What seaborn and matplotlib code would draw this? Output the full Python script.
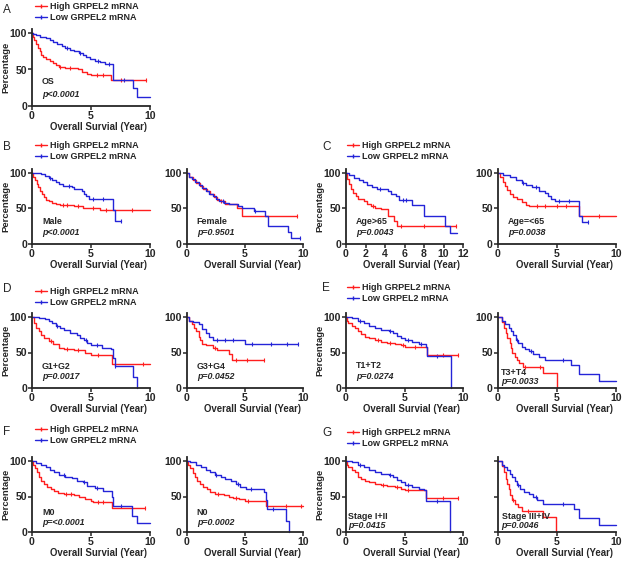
import numpy as np
import pandas as pd
import matplotlib
matplotlib.use('Agg')
import matplotlib.pyplot as plt
from matplotlib.lines import Line2D
import seaborn as sns

# Kaplan-Meier step knots (year, survival %)
A_HIGH = [(0,100),(0.1,95),(0.2,90),(0.35,85),(0.5,80),(0.65,75),(0.8,70),(0.95,67),(1.2,64),(1.5,62),(1.8,59),(2.0,56),(2.3,54),(2.8,52),(3.9,50),(4.2,47),(4.7,44),(5.0,42),(6.7,35),(9.7,35)]
A_LOW = [(0,100),(0.1,98),(0.3,97),(0.7,95),(1.2,93),(1.5,90),(1.8,87),(2.1,85),(2.5,82),(2.8,80),(3.2,77),(3.6,75),(4.0,72),(4.3,70),(4.6,67),(4.9,64),(5.3,62),(5.8,60),(6.2,58),(6.9,36),(8.6,24),(8.9,12),(10.0,12)]
B1_HIGH = [(0,100),(0.1,95),(0.25,90),(0.4,85),(0.55,80),(0.7,75),(0.85,70),(1.0,66),(1.15,62),(1.4,60),(1.7,58),(2.0,56),(2.4,55),(3.6,53),(4.3,51),(4.9,50),(5.8,48),(10.0,48)]
B1_LOW = [(0,100),(0.8,98),(1.1,96),(1.4,93),(1.7,90),(2.0,87),(2.3,84),(2.6,82),(3.4,80),(3.6,77),(4.2,74),(4.4,70),(4.6,67),(4.8,63),(6.9,48),(7.0,32),(7.5,32)]
B2_HIGH = [(0,100),(0.2,95),(0.5,90),(0.8,86),(1.1,82),(1.4,78),(1.7,74),(2.0,70),(2.3,66),(2.6,62),(2.9,60),(3.3,57),(3.8,56),(4.3,50),(4.7,40),(9.5,40)]
B2_LOW = [(0,100),(0.15,95),(0.4,91),(0.7,87),(1.0,83),(1.3,79),(1.6,75),(1.9,71),(2.2,67),(2.5,63),(2.8,61),(3.2,58),(3.6,56),(4.4,54),(4.7,50),(5.6,50),(5.8,47),(6.7,40),(7.0,26),(8.7,17),(9.0,9),(9.7,9)]
C1_HIGH = [(0,100),(0.1,92),(0.3,85),(0.5,78),(0.7,72),(1.0,68),(1.2,63),(1.8,60),(2.2,56),(2.6,53),(3.0,51),(3.6,49),(4.3,40),(4.9,33),(5.2,26),(11.3,26)]
C1_LOW = [(0,100),(0.3,97),(0.8,93),(1.3,90),(1.7,87),(2.2,83),(2.7,80),(3.2,77),(4.3,74),(4.6,70),(5.1,67),(5.4,62),(6.8,55),(8.0,40),(10.2,25),(10.7,15),(11.4,15)]
C2_HIGH = [(0,100),(0.2,95),(0.4,88),(0.6,82),(0.8,76),(1.0,70),(1.3,66),(1.6,63),(2.0,59),(2.4,55),(2.6,53),(6.9,40),(10.0,40)]
C2_LOW = [(0,100),(0.4,97),(1.0,95),(1.5,90),(2.0,86),(2.4,83),(2.9,80),(3.5,75),(4.0,72),(4.2,68),(4.5,64),(4.8,60),(6.9,40),(7.1,31),(7.6,31)]
D1_HIGH = [(0,100),(0.15,92),(0.35,85),(0.6,80),(0.8,74),(1.0,70),(1.4,66),(1.8,62),(2.3,57),(2.7,55),(3.6,53),(4.5,49),(5.0,46),(6.8,34),(10.0,34)]
D1_LOW = [(0,100),(0.6,99),(1.1,97),(1.4,94),(1.7,91),(2.0,88),(2.4,85),(2.7,81),(3.2,78),(3.8,74),(4.1,70),(4.4,67),(4.7,63),(5.0,60),(5.9,57),(6.7,55),(6.9,42),(7.0,31),(8.5,31),(8.6,15),(8.9,0)]
D2_HIGH = [(0,100),(0.2,95),(0.4,90),(0.6,85),(0.8,80),(1.0,72),(1.1,67),(1.3,62),(1.6,60),(2.2,57),(2.6,53),(3.6,48),(3.9,40),(6.6,40)]
D2_LOW = [(0,100),(0.2,95),(0.5,93),(1.0,90),(1.3,83),(1.6,77),(1.9,72),(2.2,68),(5.0,62),(9.6,62)]
E1_HIGH = [(0,100),(0.05,95),(0.2,92),(0.5,88),(0.8,84),(1.0,80),(1.3,76),(1.6,72),(2.0,70),(2.5,68),(3.0,65),(3.5,63),(4.2,62),(4.7,60),(5.0,58),(6.9,46),(9.6,46)]
E1_LOW = [(0,100),(0.5,98),(1.0,95),(1.5,91),(2.0,88),(2.5,85),(3.0,82),(3.7,80),(4.0,77),(4.4,73),(4.7,70),(5.0,67),(5.6,65),(6.2,62),(6.8,58),(6.9,45),(9.0,0)]
E2_HIGH = [(0,100),(0.3,93),(0.5,85),(0.7,77),(0.8,70),(1.0,63),(1.1,57),(1.2,50),(1.4,44),(1.6,40),(1.8,35),(2.1,30),(3.8,21),(5.0,0)]
E2_LOW = [(0,100),(0.3,95),(0.6,90),(0.9,85),(1.1,80),(1.3,75),(1.5,68),(1.7,63),(2.0,58),(2.3,55),(2.6,52),(3.0,48),(3.5,44),(4.0,40),(6.2,33),(6.9,20),(8.6,10),(10.0,10)]
F1_HIGH = [(0,100),(0.1,95),(0.25,90),(0.4,84),(0.6,78),(0.8,72),(1.0,67),(1.3,64),(1.6,61),(1.9,58),(2.2,55),(2.7,53),(3.6,52),(4.0,49),(4.5,46),(5.0,44),(5.2,42),(6.75,34),(9.6,34)]
F1_LOW = [(0,100),(0.3,97),(0.8,95),(1.2,92),(1.5,88),(1.9,84),(2.3,80),(2.8,78),(3.4,76),(3.8,72),(4.3,70),(4.7,65),(5.3,62),(6.0,58),(6.8,50),(6.9,37),(8.5,23),(8.9,12),(10.0,12)]
F2_HIGH = [(0,100),(0.1,95),(0.3,90),(0.5,83),(0.7,77),(0.9,72),(1.1,67),(1.4,63),(1.7,60),(2.0,56),(2.4,53),(3.2,52),(3.6,50),(4.0,48),(4.5,46),(5.0,43),(6.8,37),(10.0,37)]
F2_LOW = [(0,100),(0.3,98),(0.8,95),(1.2,92),(1.6,88),(2.0,84),(2.4,80),(2.9,77),(3.3,75),(3.8,72),(4.2,68),(4.6,64),(5.1,61),(5.8,60),(6.6,57),(6.8,45),(6.9,32),(8.55,16),(8.8,0)]
G1_HIGH = [(0,100),(0.05,95),(0.2,92),(0.5,88),(0.8,84),(1.0,78),(1.3,74),(1.6,72),(2.0,70),(2.5,68),(3.0,66),(3.5,65),(4.2,63),(4.7,61),(5.0,59),(6.8,48),(9.6,48)]
G1_LOW = [(0,100),(0.5,98),(1.0,95),(1.5,91),(2.0,88),(2.5,85),(3.0,82),(3.7,80),(4.0,77),(4.4,73),(4.7,70),(5.0,66),(5.6,64),(6.2,61),(6.7,59),(6.8,44),(8.9,0)]
G2_HIGH = [(0,100),(0.3,93),(0.5,85),(0.7,75),(0.8,68),(0.9,60),(1.0,52),(1.2,45),(1.4,40),(1.7,35),(2.0,30),(3.8,21),(4.95,0)]
G2_LOW = [(0,100),(0.3,95),(0.5,92),(0.8,87),(1.0,82),(1.2,77),(1.4,72),(1.6,66),(1.9,61),(2.2,57),(2.6,53),(3.0,50),(3.3,45),(3.8,40),(6.4,33),(6.9,20),(8.6,10),(10.0,10)]

# censor tick times (year)
A_HIGH_C = [2.4, 3.2, 5.5, 6.0, 7.5, 9.7]
A_LOW_C = [3.0, 4.1, 5.6, 6.5, 7.8]
B1_HIGH_C = [2.6, 3.0, 3.9, 5.2, 6.3, 8.5]
B1_LOW_C = [1.5, 3.1, 5.2, 6.0, 7.5]
B2_HIGH_C = [2.9, 9.5]
B2_LOW_C = [3.1, 5.9, 9.7]
C1_HIGH_C = [2.8, 5.6, 8.0, 11.3]
C1_LOW_C = [3.5, 5.8, 6.2]
C2_HIGH_C = [3.3, 4.0, 5.0, 5.8, 8.6]
C2_LOW_C = [2.1, 3.2, 5.2, 6.0, 7.6]
D1_HIGH_C = [1.6, 3.0, 3.9, 5.6, 9.4]
D1_LOW_C = [2.1, 4.6, 5.5, 7.0]
D2_HIGH_C = [2.4, 4.2, 5.2, 6.6]
D2_LOW_C = [2.6, 3.3, 4.0, 5.6, 7.2, 8.6, 9.6]
E1_HIGH_C = [2.7, 3.8, 4.9, 5.9, 8.3, 9.6]
E1_LOW_C = [1.2, 3.8, 5.3, 6.4, 7.8]
E2_HIGH_C = [2.3, 3.6]
E2_LOW_C = [1.6, 2.8, 5.5]
F1_HIGH_C = [2.9, 3.3, 5.6, 6.0, 9.6]
F1_LOW_C = [2.7, 4.4, 5.5, 7.5]
F2_HIGH_C = [2.7, 4.2, 5.3, 8.5, 9.8]
F2_LOW_C = [2.5, 4.4, 5.5, 7.4]
G1_HIGH_C = [3.2, 4.4, 5.3, 8.3, 9.6]
G1_LOW_C = [1.2, 3.8, 5.3, 7.8]
G2_HIGH_C = [1.3, 2.5]
G2_LOW_C = [1.7, 3.2, 5.5]

LABELS = ['High GRPEL2 mRNA', 'Low GRPEL2 mRNA']
RED = '#FF1E1E'
BLUE = '#2424D8'

sns.set_style('ticks')
plt.rcParams['font.family'] = ['Liberation Sans', 'DejaVu Sans']
plt.rcParams['font.weight'] = 'bold'

W, H = 625, 562
fig = plt.figure(figsize=(W / 100, H / 100), dpi=100)

YTOP = 105


def km_frame(knots):
    return pd.DataFrame(knots, columns=['t', 's'])


def step_value(knots, t):
    val = knots[0][1]
    for kt, ks in knots:
        if kt <= t:
            val = ks
    return val


def draw_panel(x0, x1, y100, y0, high, low, high_c, low_c, name, pval,
               xmax=10, xticks=(0, 5, 10), txt_x=0.085, txt_y=(31, 16),
               ylabels=True, ylab=True):
    # position in pixels -> figure fraction
    hpx = (y0 - y100) * YTOP / 100
    wpx = x1 - x0
    ax = fig.add_axes([x0 / W, 1 - y0 / H, wpx / W, hpx / H])
    for knots, cens, col in [(high, high_c, RED), (low, low_c, BLUE)]:
        df = km_frame(knots)
        sns.lineplot(data=df, x='t', y='s', drawstyle='steps-post', estimator=None,
                     sort=False, color=col, linewidth=1.0, ax=ax)
        cdf = pd.DataFrame({'t': cens, 's': [step_value(knots, c) for c in cens]})
        sns.scatterplot(data=cdf, x='t', y='s', marker='|', s=12, color=col,
                        linewidth=0.8, ax=ax)
    ax.set_xlim(0, xmax)
    ax.set_ylim(0, YTOP)
    ax.set_xticks(list(xticks))
    ax.set_yticks([0, 50, 100])
    for s in ['top', 'right']:
        ax.spines[s].set_visible(False)
    for s in ['left', 'bottom']:
        ax.spines[s].set_linewidth(1.3)
    ax.tick_params(length=3, width=1.1, labelsize=7.6, pad=0.6)
    for lab in ax.get_xticklabels() + ax.get_yticklabels():
        lab.set_fontweight('bold')
    if not ylabels:
        ax.set_yticklabels([])
    ax.set_xlabel('Overall Survial (Year)', fontsize=6.9, fontweight='bold')
    ax.xaxis.set_label_coords(0.5 + 7 / wpx, -16 / hpx)
    if ylab:
        ax.set_ylabel('Percentage', fontsize=6.8, fontweight='bold')
        ax.yaxis.set_label_coords(-22 / wpx, 0.5)
    else:
        ax.set_ylabel('')
    ax.text(txt_x, txt_y[0] / YTOP, name, transform=ax.transAxes, fontsize=6.4,
            fontweight='bold', va='center', ha='left')
    ax.text(txt_x, txt_y[1] / YTOP, pval, transform=ax.transAxes, fontsize=6.4,
            fontweight='bold', style='italic', va='center', ha='left')
    for ln in ax.lines:
        ln.set_clip_on(False)
    return ax


def add_legend(ax, x, y):
    handles = [Line2D([0], [0], color=RED, lw=1.0, marker='|', markersize=3),
               Line2D([0], [0], color=BLUE, lw=1.0, marker='|', markersize=3)]
    ax.legend(handles, LABELS, loc='upper left', bbox_to_anchor=(x / W, 1 - y / H),
              bbox_transform=fig.transFigure, frameon=False, handlelength=1.35,
              handletextpad=0.3, labelspacing=0.25, borderpad=0, borderaxespad=0,
              prop={'weight': 'bold', 'size': 6.5})


def letter(x, y, s):
    fig.text(x / W, 1 - y / H, s, fontsize=8.5, fontweight='normal', va='center', ha='left')


C1, C2, C3, C4 = (32, 150), (187, 303), (346, 463), (498, 616)
R1, R2, R3, R4 = (33, 106), (173, 244), (317, 388), (461, 532)

axA = draw_panel(*C1, *R1, A_HIGH, A_LOW, A_HIGH_C, A_LOW_C, 'OS', 'p<0.0001', txt_y=(33, 16))
add_legend(axA, 35, 2)
letter(3, 10, 'A')

axB1 = draw_panel(*C1, *R2, B1_HIGH, B1_LOW, B1_HIGH_C, B1_LOW_C, 'Male', 'p<0.0001')
add_legend(axB1, 35, 141)
draw_panel(*C2, *R2, B2_HIGH, B2_LOW, B2_HIGH_C, B2_LOW_C, 'Female', 'p=0.9501', ylab=False)
letter(3, 147, 'B')

axC1 = draw_panel(*C3, *R2, C1_HIGH, C1_LOW, C1_HIGH_C, C1_LOW_C, 'Age>65', 'p=0.0043',
                  xmax=12, xticks=(0, 2, 4, 6, 8, 10, 12))
add_legend(axC1, 347, 141)
draw_panel(*C4, *R2, C2_HIGH, C2_LOW, C2_HIGH_C, C2_LOW_C, 'Age=<65', 'p=0.0038', ylab=False)
letter(322, 147, 'C')

axD1 = draw_panel(*C1, *R3, D1_HIGH, D1_LOW, D1_HIGH_C, D1_LOW_C, 'G1+G2', 'p=0.0017', txt_y=(30, 16))
add_legend(axD1, 35, 287)
draw_panel(*C2, *R3, D2_HIGH, D2_LOW, D2_HIGH_C, D2_LOW_C, 'G3+G4', 'p=0.0452', txt_y=(30, 16),
           ylab=False)
letter(3, 289, 'D')

axE1 = draw_panel(*C3, *R3, E1_HIGH, E1_LOW, E1_HIGH_C, E1_LOW_C, 'T1+T2', 'p=0.0274')
add_legend(axE1, 347, 283)
draw_panel(*C4, *R3, E2_HIGH, E2_LOW, E2_HIGH_C, E2_LOW_C, 'T3+T4', 'p=0.0033',
           txt_x=0.025, txt_y=(22.5, 8.5), ylab=False)
letter(322, 288, 'E')

axF1 = draw_panel(*C1, *R4, F1_HIGH, F1_LOW, F1_HIGH_C, F1_LOW_C, 'M0', 'p=<0.0001', txt_y=(28, 13))
add_legend(axF1, 35, 425)
draw_panel(*C2, *R4, F2_HIGH, F2_LOW, F2_HIGH_C, F2_LOW_C, 'N0', 'p=0.0002', txt_y=(28, 13),
           ylab=False)
letter(3, 432, 'F')

axG1 = draw_panel(*C3, *R4, G1_HIGH, G1_LOW, G1_HIGH_C, G1_LOW_C, 'Stage I+II', 'p=0.0415',
                  txt_x=0.02, txt_y=(22.5, 9.5))
add_legend(axG1, 347, 428)
draw_panel(*C4, *R4, G2_HIGH, G2_LOW, G2_HIGH_C, G2_LOW_C, 'Stage III+IV', 'p=0.0046',
           txt_x=0.03, txt_y=(22.5, 9.5), ylabels=False, ylab=False)
letter(322, 433, 'G')

fig.savefig('out.png', dpi=100)
